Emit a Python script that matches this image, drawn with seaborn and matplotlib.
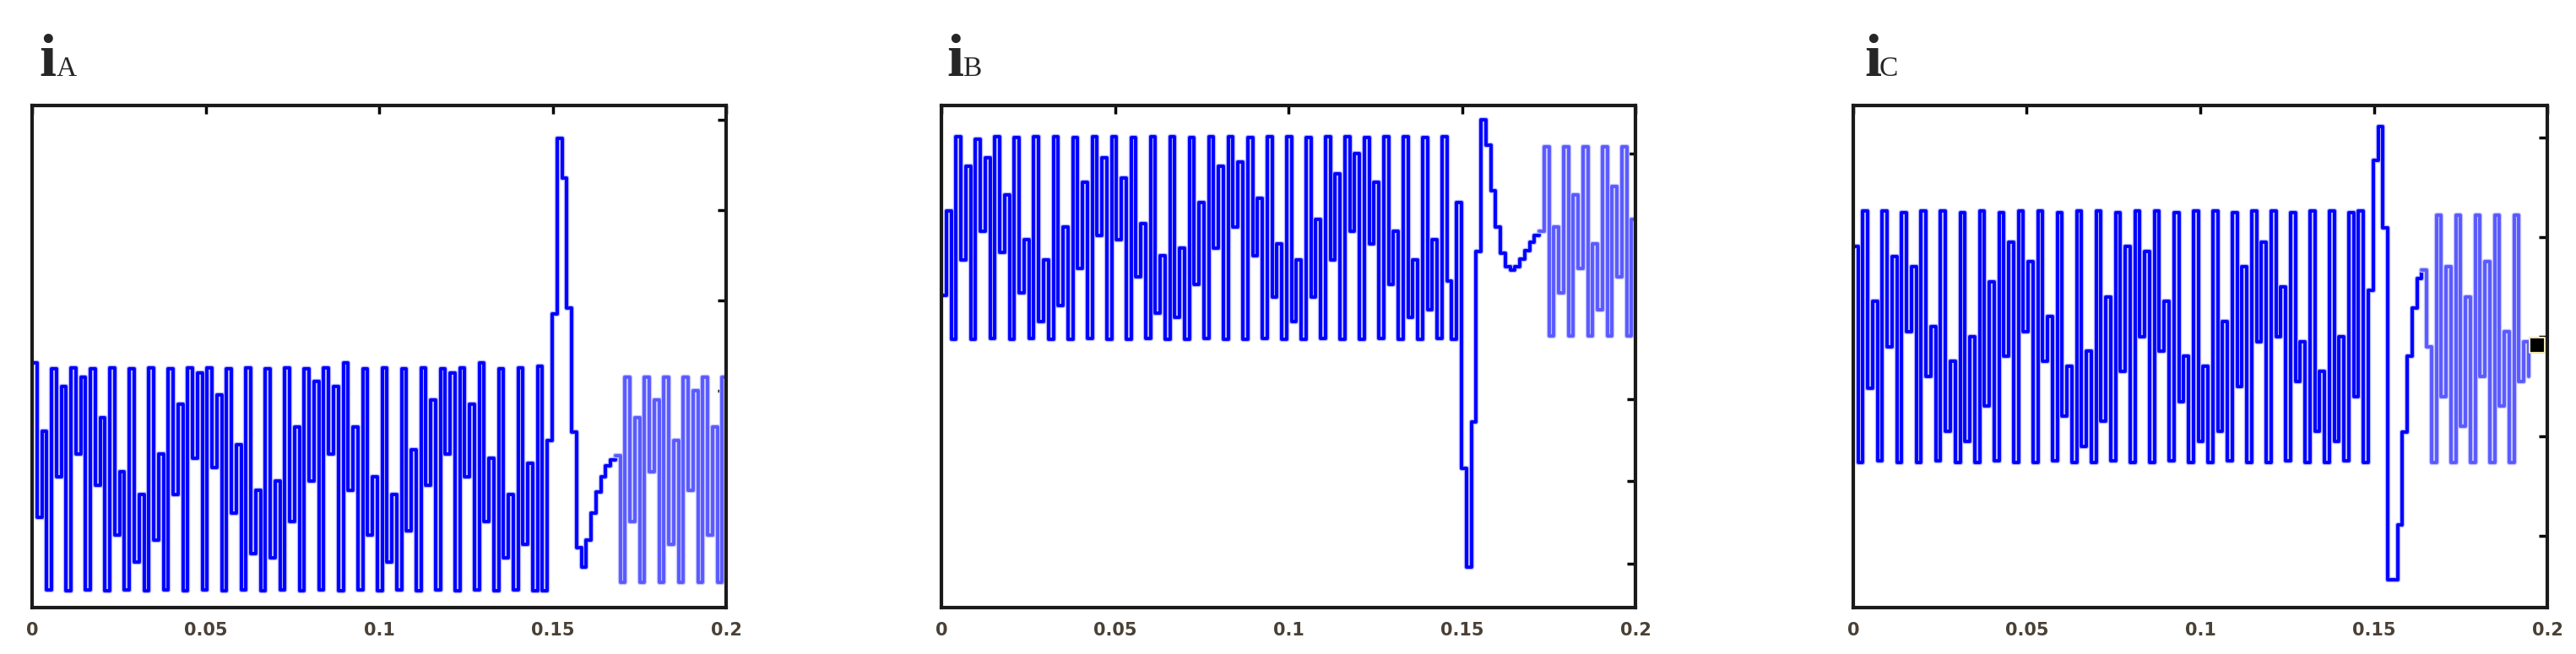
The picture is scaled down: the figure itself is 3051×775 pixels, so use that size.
import numpy as np
import seaborn as sns
import matplotlib.pyplot as plt

# sample step of the recorded currents (s)
dt = 0.0014

# phase A: pre-fault + fault transient, then post-fault part (drawn lighter)
ia_main = [
    2.31, 0.60, 1.55, -0.20,  2.24, 1.05, 2.05, -0.21,  2.25, 1.30, 2.15, -0.20,
    2.24, 0.95, 1.70, -0.21,  2.25, 0.40, 1.10, -0.20,  2.24, 0.10, 0.85, -0.21,
    2.25, 0.35, 1.30, -0.20,  2.24, 0.85, 1.85, -0.21,  2.25, 1.25, 2.20, -0.20,
    2.25, 1.15, 1.95, -0.21,  2.24, 0.65, 1.40, -0.20,  2.25, 0.20, 0.90, -0.21,
    2.24, 0.15, 1.00, -0.20,  2.25, 0.55, 1.60, -0.21,  2.24, 1.00, 2.10, -0.20,
    2.25, 1.30, 2.05, -0.21,  2.31, 0.90, 1.60, -0.20,  2.24, 0.40, 1.05, -0.21,
    2.25, 0.10, 0.85, -0.20,  2.24, 0.45, 1.35, -0.21,  2.25, 0.95, 1.90, -0.20,
    2.24, 1.30, 2.20, -0.21,  2.25, 1.05, 1.85, -0.20,  2.31, 0.55, 1.25, -0.21,
    2.24, 0.15, 0.85, -0.20,  2.25, 0.30, 1.20, -0.21,
    2.27, -0.21, 1.45, 2.85, 4.79, 4.35, 2.92, 1.54, 0.26, 0.05,
    0.35, 0.65, 0.88, 1.05, 1.17, 1.23, 1.28,
]
ia_post = [
    -0.12, 2.15, 0.55, 1.70, -0.12, 2.15, 1.10, 1.90, -0.12, 2.15, 0.30, 1.45,
    -0.12, 2.15, 0.90, 2.00, -0.12, 2.15, 0.40, 1.60, -0.12, 2.15, 1.19,
]

ib_main = [
    3.27, 4.30, 2.73, 5.21,  3.70, 4.85, 2.73, 5.18,  4.05, 4.95, 2.75, 5.21,
    3.80, 4.50, 2.73, 5.20,  3.30, 3.95, 2.74, 5.21,  2.95, 3.70, 2.73, 5.21,
    3.15, 4.10, 2.73, 5.20,  3.60, 4.65, 2.75, 5.21,  4.00, 4.95, 2.73, 5.21,
    3.95, 4.70, 2.73, 5.20,  3.50, 4.15, 2.74, 5.21,  3.05, 3.75, 2.73, 5.21,
    3.00, 3.85, 2.73, 5.20,  3.40, 4.40, 2.75, 5.21,  3.85, 4.85, 2.73, 5.21,
    4.10, 4.90, 2.73, 5.20,  3.75, 4.45, 2.74, 5.21,  3.25, 3.90, 2.73, 5.21,
    2.95, 3.70, 2.73, 5.20,  3.25, 4.20, 2.75, 5.21,  3.70, 4.75, 2.73, 5.21,
    4.05, 5.00, 2.73, 5.20,  3.90, 4.65, 2.74, 5.21,  3.40, 4.05, 2.73, 5.21,
    3.00, 3.70, 2.73, 5.20,  3.10, 3.95, 2.74, 5.21,
    3.45, 2.73, 4.40, 1.16, -0.05, 1.73, 3.81, 5.41, 5.10, 4.55,
    4.10, 3.79, 3.62, 3.58, 3.62, 3.71, 3.82, 3.92, 4.00, 4.05,
]
ib_post = [
    5.08, 2.78, 4.10, 3.30, 5.08, 2.78, 4.50, 3.60, 5.08, 2.78,
    3.90, 3.10, 5.08, 2.78, 4.60, 3.50, 5.08, 2.78, 4.20, 3.60,
]

ic_main = [
    2.90, 0.74, 3.26, 1.48,  2.35, 0.75, 3.26, 1.90,  2.80, 0.74, 3.24, 2.05,
    2.70, 0.74, 3.26, 1.60,  2.10, 0.75, 3.26, 1.05,  1.75, 0.74, 3.24, 0.95,
    2.00, 0.74, 3.26, 1.30,  2.55, 0.75, 3.24, 1.80,  2.95, 0.74, 3.26, 2.05,
    2.75, 0.74, 3.26, 1.75,  2.20, 0.75, 3.24, 1.20,  1.70, 0.74, 3.26, 0.90,
    1.85, 0.74, 3.26, 1.15,  2.40, 0.75, 3.24, 1.65,  2.90, 0.74, 3.26, 2.00,
    2.85, 0.74, 3.26, 1.85,  2.35, 0.75, 3.24, 1.35,  1.80, 0.74, 3.26, 0.95,
    1.70, 0.74, 3.26, 1.05,  2.15, 0.75, 3.24, 1.50,  2.70, 0.74, 3.26, 1.95,
    2.95, 0.74, 3.26, 2.00,  2.50, 0.75, 3.24, 1.55,  1.95, 0.74, 3.26, 1.05,
    1.65, 0.74, 3.26, 0.95,  2.00, 0.75, 3.24, 1.40,
    3.26, 0.74, 2.46, 3.77, 4.11, 3.09, -0.44, -0.44, 0.11, 1.04,
    1.80, 2.29, 2.58, 2.67,
]
ic_post = [
    1.90, 0.74, 3.22, 1.40, 2.70, 0.74, 3.22, 1.10, 2.40, 0.74, 3.22,
    1.60, 2.75, 0.74, 3.22, 1.30, 2.05, 0.74, 3.22, 1.55, 1.95, 1.60,
]
# small black square sitting on the right frame of the iC plot
ic_mark_t = [0.197]
ic_mark_v = [1.91]

titles = ["A", "B", "C"]
series = [(ia_main, ia_post), (ib_main, ib_post), (ic_main, ic_post)]
ylims = [(-0.40, 5.16), (-0.54, 5.59), (-0.72, 4.32)]
yticks = [[0, 1, 2, 3, 4, 5], [0, 1, 2, 3, 4, 5], [0, 1, 2, 3, 4]]
xticks = [0, 0.05, 0.1, 0.15, 0.2]
xticklabels = ["0", "0.05", "0.1", "0.15", "0.2"]

sns.set_style("white")
fig = plt.figure(figsize=(30.51, 7.75), dpi=100)

ax_left = [0.0125, 0.3655, 0.7194]
ax_w = 0.2695
title_x = [(0.0151, 0.0217), (0.3674, 0.3737), (0.7237, 0.7296)]


def trace(ax, t, v, color, halo):
    # soft light-blue halo under the line, like the blurred scan
    sns.lineplot(x=t, y=v, ax=ax, color=halo, lw=4.6, drawstyle="steps-post",
                 estimator=None, sort=False)
    sns.lineplot(x=t, y=v, ax=ax, color=color, lw=2.8, drawstyle="steps-post",
                 estimator=None, sort=False)


for i in range(3):
    ax = fig.add_axes([ax_left[i], 0.071, ax_w, 0.768])
    main, post = series[i]
    t_main = np.arange(len(main)) * dt
    t_post = (np.arange(len(post) + 1) + len(main) - 1) * dt
    trace(ax, t_main, main, "#0000ff", "#b4b4ff")
    trace(ax, t_post, [main[-1]] + post, "#5a5aff", "#c4c4ff")
    if i == 2:
        sns.scatterplot(x=ic_mark_t, y=ic_mark_v, ax=ax, marker="s", s=170,
                        color="black", edgecolor="#efe6b0", linewidth=1.5,
                        zorder=5, clip_on=False)

    ax.set_xlim(0, 0.2)
    ax.set_ylim(*ylims[i])
    ax.set_xticks(xticks)
    ax.set_xticklabels(xticklabels)
    ax.set_yticks(yticks[i])
    ax.tick_params(direction="in", top=True, right=True, length=7, width=2.5,
                   labelleft=False, labelsize=15, pad=12, colors="black",
                   labelcolor="#4a4036")
    for lab in ax.get_xticklabels():
        lab.set_fontweight("bold")
    for sp in ax.spines.values():
        sp.set_visible(True)
        sp.set_color("#1a1a1a")
        sp.set_linewidth(3)

    fig.text(title_x[i][0], 0.884, "i", family="Liberation Serif",
             fontweight="bold", fontsize=52, va="baseline", ha="left")
    fig.text(title_x[i][1], 0.884, titles[i], family="Liberation Serif",
             fontsize=24, va="baseline", ha="left")

fig.savefig("out.png", dpi=100, facecolor="white")
